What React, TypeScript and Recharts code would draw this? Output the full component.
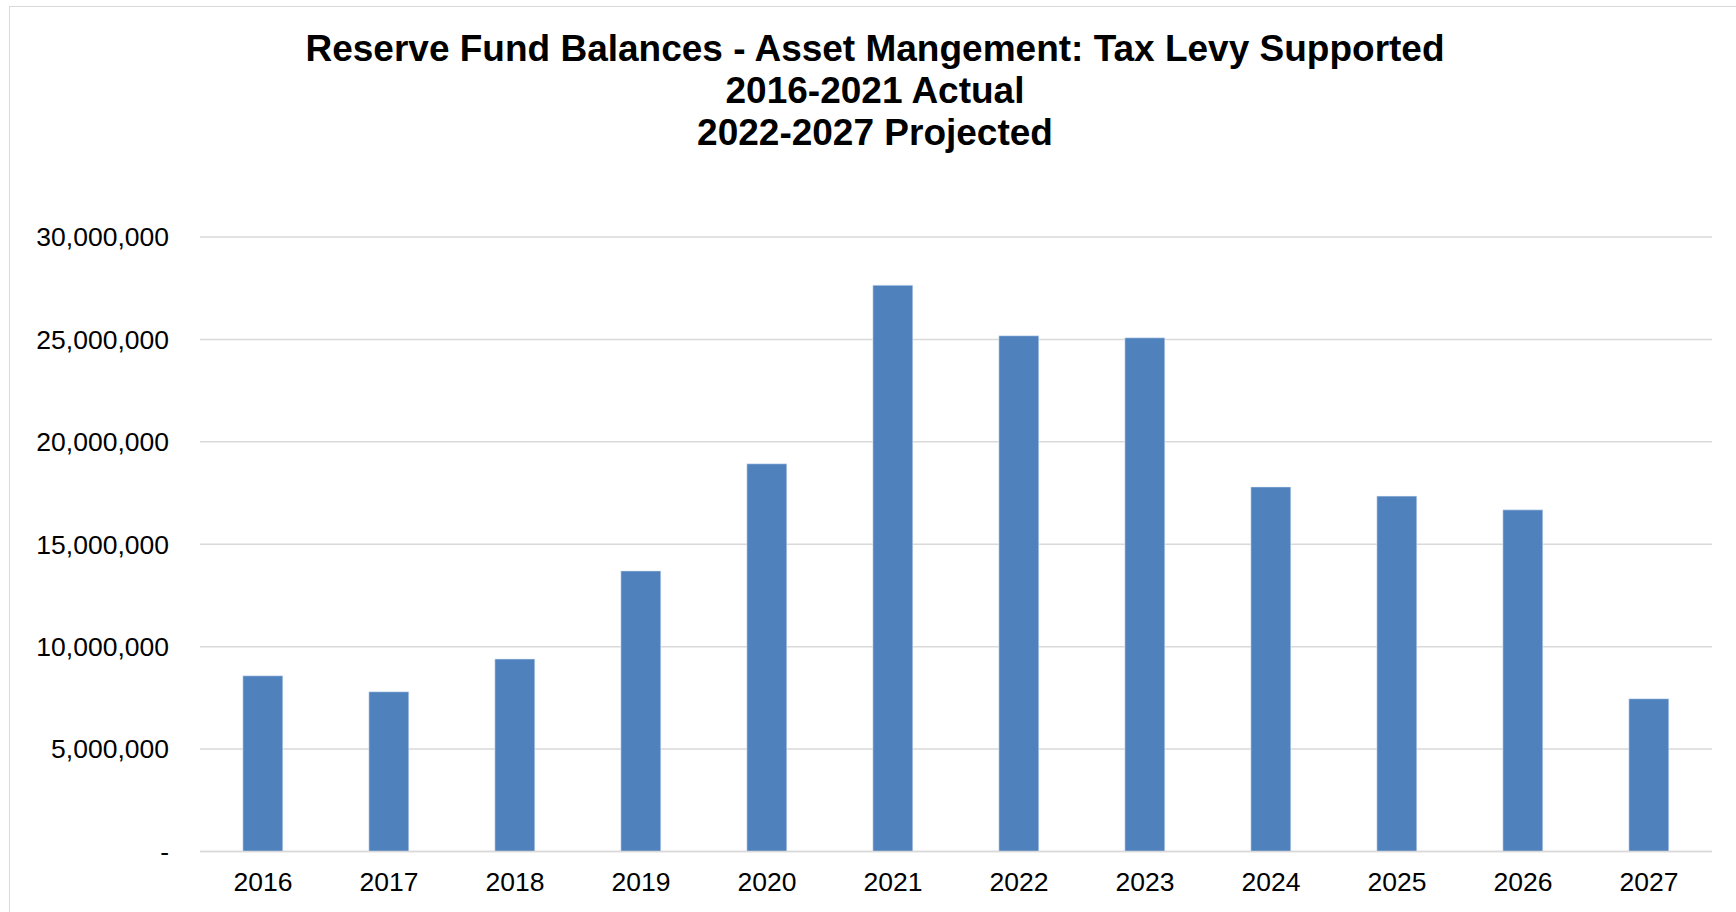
import { Bar, BarChart, CartesianGrid, XAxis, YAxis } from 'recharts'

const YEARS = ['2016', '2017', '2018', '2019', '2020', '2021', '2022', '2023', '2024', '2025', '2026', '2027']
const BALANCES = [
  8580000, 7800000, 9400000, 13700000, 18930000, 27650000,
  25180000, 25080000, 17800000, 17350000, 16680000, 7460000,
]
const Y_TICKS = [0, 5000000, 10000000, 15000000, 20000000, 25000000, 30000000]
const TITLE_LINES = [
  'Reserve Fund Balances - Asset Mangement: Tax Levy Supported',
  '2016-2021 Actual',
  '2022-2027 Projected',
]

const data = YEARS.map((year, i) => ({ year, value: BALANCES[i] }))

const fmt = (v: number) => (v === 0 ? '-' : v.toLocaleString('en-US'))

const FONT = '"Liberation Sans", Arial, sans-serif'

export default function App() {
  return (
    <div
      style={{
        position: 'fixed',
        left: 0,
        top: 0,
        width: 1736,
        height: 912,
        overflow: 'hidden',
        background: '#fff',
        fontFamily: FONT,
      }}
    >
      {/* outer chart frame */}
      <div
        style={{
          position: 'absolute',
          left: 9,
          top: 6,
          width: 1760,
          height: 940,
          border: '1.5px solid #d9d9d9',
        }}
      />
      <div
        style={{
          position: 'absolute',
          left: 0,
          top: 28,
          width: 1750,
          textAlign: 'center',
          fontWeight: 'bold',
          fontSize: 37,
          lineHeight: '42px',
          color: '#000',
        }}
      >
        {TITLE_LINES.map((t) => (
          <div key={t}>{t}</div>
        ))}
      </div>
      <div style={{ position: 'absolute', left: 0, top: 0 }}>
        <BarChart
          width={1736}
          height={912}
          data={data}
          margin={{ top: 237, right: 24, bottom: 0, left: 0 }}
          barCategoryGap="34%"
        >
          <CartesianGrid vertical={false} stroke="#d9d9d9" strokeWidth={1.5} />
          <XAxis
            dataKey="year"
            height={60.5}
            tickLine={false}
            tickSize={0}
            tickMargin={21}
            axisLine={{ stroke: '#d9d9d9', strokeWidth: 1.5 }}
            tick={{ fill: '#000', fontSize: 26.5, fontFamily: FONT }}
            interval={0}
          />
          <YAxis
            width={200}
            domain={[0, 30000000]}
            ticks={Y_TICKS}
            tickFormatter={fmt}
            tickLine={false}
            tickSize={0}
            axisLine={false}
            tickMargin={31}
            tick={{ fill: '#000', fontSize: 26.5, fontFamily: FONT }}
          />
          <Bar dataKey="value" fill="#4f81bd" stroke="#e8eef8" strokeWidth={0.6} isAnimationActive={false} />
        </BarChart>
      </div>
    </div>
  )
}
